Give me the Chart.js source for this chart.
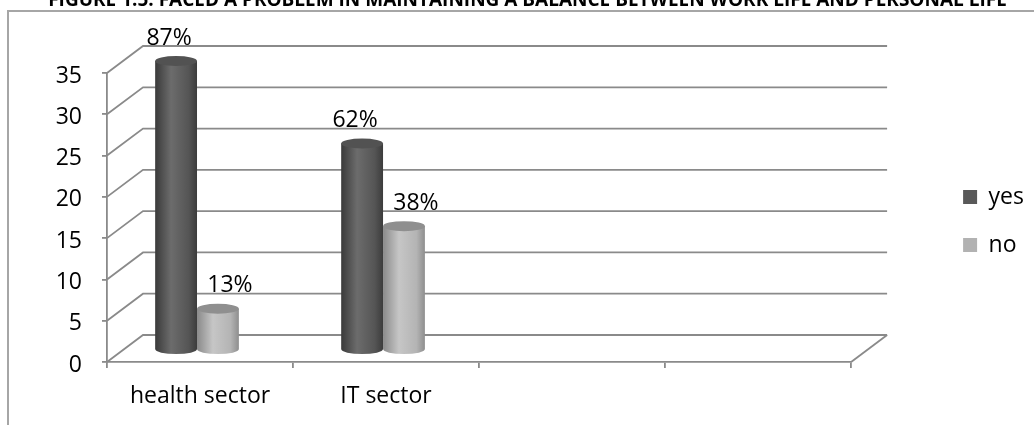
<!DOCTYPE html>
<html><head><meta charset="utf-8">
<script src="https://cdn.jsdelivr.net/npm/chart.js@4.4.0/dist/chart.umd.min.js"></script>
<style>
html,body{margin:0;padding:0;background:#fff;overflow:hidden;width:1034px;height:425px;}
#wrap{position:absolute;left:0;top:-11px;width:1034px;height:436px;}
</style></head><body>
<div id="wrap"><canvas id="c" width="1034" height="436"></canvas></div>
<script>
// ---- data ----
const titleText = 'FIGURE 1.5: FACED A PROBLEM IN MAINTAINING A BALANCE BETWEEN WORK LIFE AND PERSONAL LIFE';
const categories = ['health sector', 'IT sector', '', ''];
const seriesNames = ['yes', 'no'];
const yesValues = [35, 25, null, null];
const noValues = [5, 15, null, null];
const yesLabels = ['87%', '62%', '', ''];
const noLabels = ['13%', '38%', '', ''];
const yTicks = [0, 5, 10, 15, 20, 25, 30, 35];

// ---- style ----
const FONT = '"Open Sans", "DejaVu Sans", sans-serif';
const FS = 23;
const GRID = '#8a8a8a';
const GW = 1.8;
const DX = 36, DY = -27;       // depth of 3D wall
const BX = -3, BY = -12;       // bar placement inside the depth
const RY = 5;                  // ellipse radius of cylinder caps
const LABEL_DX = [-7, 12];
const LABEL_DY = -23;
const colors = [
  {legend: '#595959', edgeL: '#3a3a3a', light: '#6c6c6c', mid: '#555555', edgeR: '#3c3c3c', cap: '#525252'},
  {legend: '#b2b2b2', edgeL: '#8a8a8a', light: '#c6c6c6', mid: '#b4b4b4', edgeR: '#8e8e8e', cap: '#8f8f8f'}
];
const pctLabels = [yesLabels, noLabels];

function cylinder(ctx, cx, top, base, w, ry, c) {
  const l = cx - w / 2, r = cx + w / 2;
  const g = ctx.createLinearGradient(l, 0, r, 0);
  g.addColorStop(0, c.edgeL);
  g.addColorStop(0.38, c.light);
  g.addColorStop(0.8, c.mid);
  g.addColorStop(1, c.edgeR);
  ctx.fillStyle = g;
  ctx.beginPath();
  ctx.moveTo(l, top);
  ctx.lineTo(l, base);
  ctx.ellipse(cx, base, w / 2, ry, 0, Math.PI, 0, true);
  ctx.lineTo(r, top);
  ctx.closePath();
  ctx.fill();
  ctx.beginPath();
  ctx.ellipse(cx, top, w / 2, ry, 0, 0, Math.PI * 2);
  ctx.fillStyle = c.cap;
  ctx.fill();
}

const framePlugin = {
  id: 'frame3d',
  beforeDraw(chart) {
    const ctx = chart.ctx;
    ctx.save();
    ctx.strokeStyle = '#a6a6a6';
    ctx.lineWidth = 2;
    ctx.beginPath();
    ctx.moveTo(1034, 22); ctx.lineTo(8, 22); ctx.lineTo(8, 436);
    ctx.stroke();
    ctx.restore();
  },
  beforeDatasetsDraw(chart) {
    const {ctx, scales: {x, y}} = chart;
    ctx.save();
    ctx.strokeStyle = GRID;
    ctx.lineWidth = GW;
    yTicks.forEach(v => {
      const py = y.getPixelForValue(v);
      ctx.beginPath();
      ctx.moveTo(x.left, py);
      ctx.lineTo(x.left + DX, py + DY);
      ctx.lineTo(x.right + DX, py + DY);
      ctx.stroke();
    });
    const p0 = y.getPixelForValue(0);
    ctx.beginPath();
    ctx.moveTo(x.right, p0);
    ctx.lineTo(x.right + DX, p0 + DY);
    ctx.stroke();
    ctx.restore();
  },
  beforeDatasetDraw() { return false; },
  afterDatasetsDraw(chart) {
    const ctx = chart.ctx;
    ctx.save();
    chart.data.datasets.forEach((ds, di) => {
      const meta = chart.getDatasetMeta(di);
      meta.data.forEach((el, i) => {
        if (ds.data[i] == null) return;
        cylinder(ctx, el.x + BX, el.y + BY, el.base + BY, el.width, RY, colors[di]);
      });
    });
    ctx.font = FS + 'px ' + FONT;
    ctx.fillStyle = '#000';
    ctx.textAlign = 'center';
    ctx.textBaseline = 'middle';
    chart.data.datasets.forEach((ds, di) => {
      const meta = chart.getDatasetMeta(di);
      meta.data.forEach((el, i) => {
        if (ds.data[i] == null || !pctLabels[di][i]) return;
        ctx.fillText(pctLabels[di][i], el.x + BX + LABEL_DX[di], el.y + BY + LABEL_DY);
      });
    });
    ctx.restore();
  }
};

new Chart(document.getElementById('c'), {
  type: 'bar',
  data: {
    labels: categories,
    datasets: [
      {label: seriesNames[0], data: yesValues, backgroundColor: colors[0].legend, borderWidth: 0},
      {label: seriesNames[1], data: noValues, backgroundColor: colors[1].legend, borderWidth: 0}
    ]
  },
  options: {
    responsive: false,
    animation: false,
    devicePixelRatio: 1,
    categoryPercentage: 0.45,
    barPercentage: 1.0,
    layout: {padding: {left: 21, right: 0, top: 0, bottom: 0}},
    plugins: {
      title: {display: true, text: titleText, color: '#000',
        font: {family: FONT, size: 19, weight: 'bold'}, padding: {top: 0, bottom: 61.2}},
      legend: {position: 'right', fullSize: false, align: 'center',
        title: {display: true, text: ' ', font: {size: 5}, padding: 0.5},
        labels: {boxWidth: 14, boxHeight: 14, padding: 25, color: '#000', font: {family: FONT, size: FS}}},
      tooltip: {enabled: false}
    },
    scales: {
      x: {
        grid: {display: true, drawOnChartArea: false, drawTicks: true, tickLength: 6, color: GRID, lineWidth: GW, offset: true},
        border: {display: true, color: GRID, width: GW},
        ticks: {color: '#000', font: {family: FONT, size: FS}, padding: 15, maxRotation: 0, autoSkip: false},
        afterFit(s) { s.height = 63; }
      },
      y: {
        min: 0, max: 35,
        afterBuildTicks(s) { s.ticks = yTicks.map(v => ({value: v})); },
        grid: {display: true, drawOnChartArea: false, drawTicks: true, tickLength: 5, color: GRID, lineWidth: GW},
        border: {display: true, color: GRID, width: GW},
        ticks: {color: '#000', font: {family: FONT, size: FS}, padding: 20, labelOffset: 3},
        afterFit(s) { s.width = 86; }
      },
      spacer: {
        type: 'linear', position: 'right', display: true,
        grid: {display: false}, border: {display: false}, ticks: {display: false},
        afterFit(s) { s.width = 87; }
      }
    }
  },
  plugins: [framePlugin]
});
</script>
</body></html>
